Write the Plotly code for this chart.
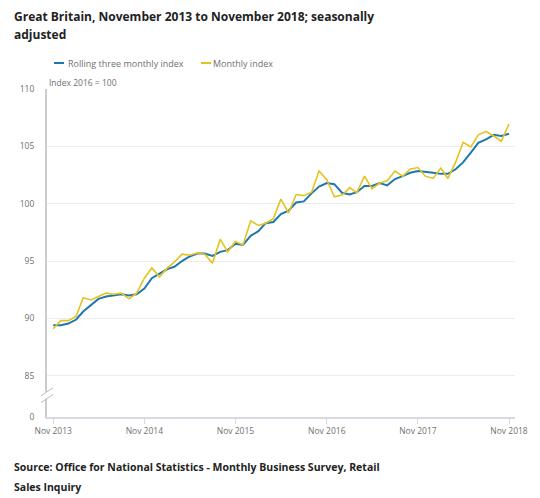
"""
Retail sales index, Great Britain, Nov 2013 to Nov 2018 (seasonally adjusted).
Rolling three monthly index vs monthly index, with a broken y axis (0 .. 85).
"""

import plotly.graph_objects as go
import pandas as pd

# monthly dates, Nov 2013 .. Nov 2018
months = pd.date_range("2013-11-01", "2018-11-01", freq="MS")

rolling_index = [
    89.4, 89.4, 89.55, 89.9, 90.6, 91.2, 91.7, 91.9, 92.0, 92.1, 92.0, 92.1,
    92.6, 93.5, 93.9, 94.3, 94.5, 95.0, 95.4, 95.65, 95.65, 95.45, 95.8, 95.95,
    96.5, 96.4, 97.2, 97.6, 98.3, 98.4, 99.1, 99.4, 100.1, 100.2, 100.9, 101.5,
    101.8, 101.7, 100.95, 100.8, 101.0, 101.55, 101.55, 101.8, 101.6, 102.15, 102.4, 102.7,
    102.85, 102.8, 102.7, 102.6, 102.6, 103.0, 103.6, 104.45, 105.3, 105.6, 106.0, 105.9,
    106.1,
]

monthly_index = [
    89.1, 89.8, 89.8, 90.2, 91.8, 91.6, 91.9, 92.2, 92.1, 92.2, 91.7, 92.2,
    93.5, 94.4, 93.6, 94.4, 94.9, 95.6, 95.5, 95.7, 95.6, 94.8, 96.9, 95.8,
    96.7, 96.4, 98.5, 98.1, 98.3, 98.7, 100.4, 99.2, 100.8, 100.7, 101.0, 102.85,
    102.1, 100.6, 100.75, 101.4, 100.95, 102.4, 101.3, 101.8, 102.0, 102.85, 102.4, 103.0,
    103.15, 102.4, 102.2, 103.1, 102.2, 103.6, 105.35, 104.95, 106.0, 106.3, 105.9, 105.45,
    106.95,
]

# y axis is broken below 85: the "0" tick sits at the bottom of the visible range
axis_floor = 81.4
y_tickvals = [axis_floor, 85, 90, 95, 100, 105, 110]
y_ticktext = ["0", "85", "90", "95", "100", "105", "110"]

x_tickvals = ["2013-11-01", "2014-11-01", "2015-11-01", "2016-11-01", "2017-11-01", "2018-11-01"]
x_ticktext = ["Nov 2013", "Nov 2014", "Nov 2015", "Nov 2016", "Nov 2017", "Nov 2018"]

BLUE = "#1f78ad"
YELLOW = "#e4c31f"
GREY_TEXT = "#707070"
FONT = "Open Sans"

fig = go.Figure()

fig.add_trace(go.Scatter(
    x=months, y=rolling_index, mode="lines",
    name="Rolling three monthly index",
    line=dict(color=BLUE, width=2),
))

fig.add_trace(go.Scatter(
    x=months, y=monthly_index, mode="lines",
    name="Monthly index",
    line=dict(color=YELLOW, width=1.6),
))

# the page adds an 8px body margin, so the figure is 8px smaller than the window
fig.update_layout(
    width=532, height=490,
    margin=dict(l=37, r=23, t=81, b=81),
    paper_bgcolor="white",
    plot_bgcolor="white",
    font=dict(family=FONT, size=9, color=GREY_TEXT),
    showlegend=False,
    xaxis=dict(
        range=["2013-10-07", "2018-11-25"],
        tickvals=x_tickvals, ticktext=x_ticktext,
        showgrid=False, zeroline=False,
        showline=True, linecolor="#d8d8e0", linewidth=1.5,
        ticks="outside", ticklen=5, tickcolor="#d8d8e0",
        tickfont=dict(size=8.5, color=GREY_TEXT),
    ),
    yaxis=dict(
        range=[axis_floor, 110],
        tickvals=y_tickvals, ticktext=y_ticktext,
        showgrid=True, gridcolor="#ececec", gridwidth=1,
        zeroline=False,
        showline=True, linecolor="#cccccc", linewidth=2,
        ticks="", ticklabelstandoff=9,
        tickfont=dict(size=8.5, color=GREY_TEXT),
    ),
)


def side_text(text, xshift, yshift, y=1.0, size=9, color=GREY_TEXT, bold=False):
    # text placed in pixels relative to the plot area's left edge
    fig.add_annotation(
        text=text, xref="paper", yref="paper", x=0, y=y,
        xshift=xshift, yshift=yshift,
        xanchor="left", yanchor="middle", showarrow=False, borderpad=0,
        font=dict(family=FONT, size=size, color=color,
                  weight="bold" if bold else "normal"),
    )


# title (two lines, bold)
side_text("Great Britain, November 2013 to November 2018; seasonally", -34, 73,
          size=12, color="#222222", bold=True)
side_text("adjusted", -34, 55, size=12, color="#222222", bold=True)

# source (two lines, bold, below the x axis)
side_text("Source: Office for National Statistics - Monthly Business Survey, Retail", -34, -50,
          y=0.0, size=10.5, color="#222222", bold=True)
side_text("Sales Inquiry", -34, -70, y=0.0, size=10.5, color="#222222", bold=True)

# legend: short coloured line + label
for colour, label, x_line, x_text in [(BLUE, "Rolling three monthly index", 7, 20),
                                      (YELLOW, "Monthly index", 154, 165)]:
    fig.add_shape(type="line", xref="paper", yref="paper",
                  xsizemode="pixel", xanchor=0, x0=x_line, x1=x_line + 10,
                  ysizemode="pixel", yanchor=1, y0=26, y1=26,
                  line=dict(color=colour, width=2))
    side_text(label, x_text, 26)

# unit label above the plot
side_text("Index 2016 = 100", 1, 7, size=8.5)

# axis break marks on the y axis between 0 and 85
fig.add_shape(type="rect", xref="paper", yref="y", x0=-0.01, x1=0.01,
              y0=83.0, y1=83.6, fillcolor="white", line=dict(width=0), layer="above")
for y_mid in (83.0, 83.6):
    fig.add_shape(type="line", xref="paper", yref="y",
                  x0=-0.013, x1=0.013, y0=y_mid - 0.35, y1=y_mid + 0.35,
                  line=dict(color="#bbbbbb", width=1), layer="above")

fig.write_html("out.html")
